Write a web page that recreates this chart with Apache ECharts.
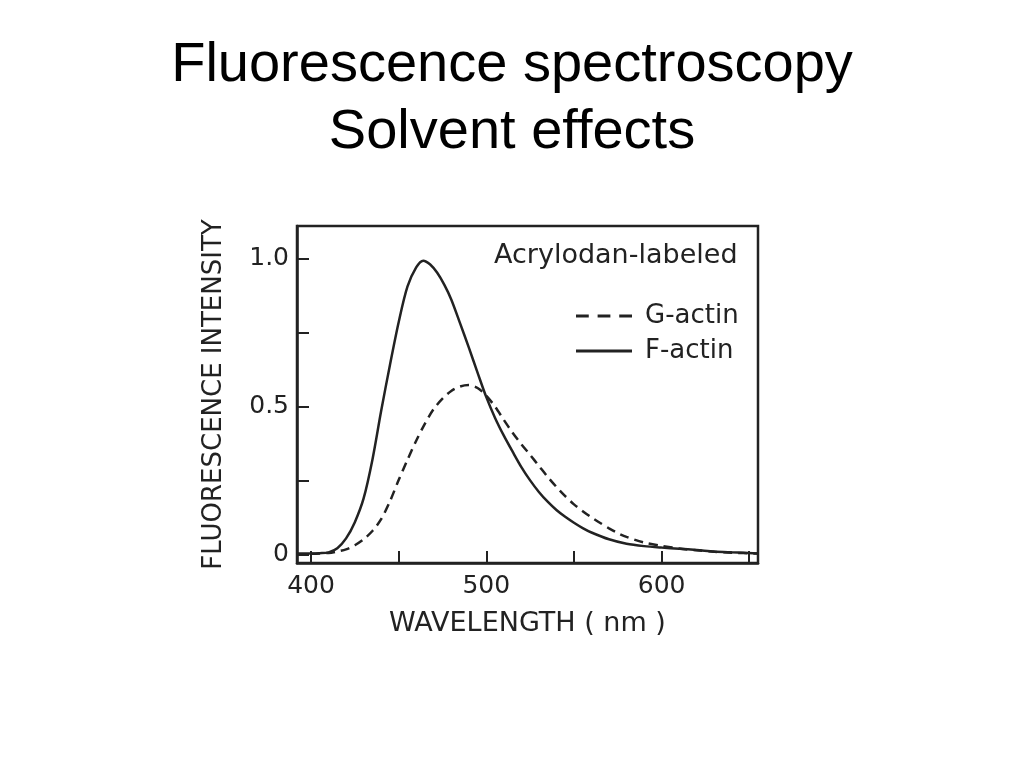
<!DOCTYPE html>
<html>
<head>
<meta charset="utf-8">
<style>
  html, body { margin: 0; padding: 0; background: #ffffff; }
  #chart { width: 1024px; height: 768px; }
</style>
<script src="https://cdn.jsdelivr.net/npm/echarts@6/dist/echarts.min.js"></script>
</head>
<body>
<div id="chart"></div>
<script>
// ---- data (wavelength in nm, normalized intensity) ----
const fWavelengths = [392, 400, 405, 410, 415, 420, 425, 430, 435, 440, 445, 450, 455, 460, 464, 468, 472, 476, 480, 485, 490, 495, 500, 505, 510, 515, 520, 525, 530, 535, 540, 545, 550, 555, 560, 570, 580, 590, 600, 610, 620, 630, 640, 655];
const fActin      = [0.004, 0.004, 0.005, 0.008, 0.022, 0.055, 0.11, 0.19, 0.32, 0.485, 0.64, 0.785, 0.905, 0.97, 0.993, 0.98, 0.952, 0.912, 0.862, 0.782, 0.70, 0.615, 0.532, 0.462, 0.402, 0.348, 0.296, 0.251, 0.212, 0.179, 0.151, 0.128, 0.108, 0.09, 0.075, 0.052, 0.037, 0.029, 0.024, 0.02, 0.016, 0.011, 0.008, 0.004];

const gWavelengths = [400, 410, 415, 420, 425, 430, 435, 440, 445, 450, 455, 460, 465, 470, 475, 480, 485, 490, 495, 500, 505, 510, 515, 520, 525, 530, 535, 540, 545, 550, 555, 560, 565, 570, 575, 580, 590, 600, 610, 620, 630, 640, 655];
const gActin      = [0.003, 0.006, 0.011, 0.018, 0.032, 0.052, 0.08, 0.12, 0.18, 0.252, 0.32, 0.385, 0.443, 0.492, 0.527, 0.553, 0.568, 0.573, 0.563, 0.537, 0.5, 0.455, 0.412, 0.373, 0.337, 0.3, 0.263, 0.229, 0.198, 0.17, 0.147, 0.126, 0.107, 0.089, 0.073, 0.06, 0.041, 0.03, 0.021, 0.015, 0.01, 0.007, 0.004];

const xTickValues  = [400, 450, 500, 550, 600, 650];
const xLabelValues = [400, 500, 600];
const yTickValues  = [0, 0.25, 0.5, 0.75, 1.0];
const yLabelValues = [0, 0.5, 1.0];

const seriesNames = ['G-actin', 'F-actin'];

const ink = '#222222';
const figFont = '"DejaVu Sans", sans-serif';

const dashedIcon = 'path://M0,0H13V3H0Z M22,0H35V3H22Z M44,0H57V3H44Z';
const solidIcon  = 'path://M0,0H57V3H0Z';

const chart = echarts.init(document.getElementById('chart'));

chart.setOption({
  backgroundColor: '#ffffff',
  animation: false,
  title: [
    {
      text: 'Fluorescence spectroscopy\nSolvent effects',
      left: 'center',
      top: 27,
      textStyle: {
        fontFamily: '"Liberation Sans", Arial, sans-serif',
        fontWeight: 'normal',
        fontSize: 56,
        lineHeight: 67,
        color: '#000000'
      }
    },
    {
      text: 'Acrylodan-labeled',
      left: 489,
      top: 237,
      textStyle: {
        fontFamily: figFont,
        fontWeight: 'normal',
        fontSize: 27,
        color: ink
      }
    }
  ],
  legend: {
    data: [
      { name: seriesNames[0], icon: dashedIcon },
      { name: seriesNames[1], icon: solidIcon }
    ],
    orient: 'vertical',
    left: 571,
    top: 298,
    itemWidth: 56,
    itemHeight: 3,
    itemGap: 9,
    textStyle: {
      fontFamily: figFont,
      fontSize: 26,
      color: ink,
      padding: [0, 0, 0, 8]
    }
  },
  grid: {
    left: 297,
    right: 266,
    top: 226,
    bottom: 205,
    show: true,
    borderColor: ink,
    borderWidth: 2.5,
    backgroundColor: 'transparent'
  },
  xAxis: {
    type: 'value',
    min: 392,
    max: 655,
    name: 'WAVELENGTH ( nm )',
    nameLocation: 'middle',
    nameGap: 47,
    nameTextStyle: { fontFamily: figFont, fontSize: 27, color: ink },
    axisLine: { show: true, onZero: false, lineStyle: { color: ink, width: 2.5 } },
    axisTick: {
      show: true, inside: true, length: 12,
      customValues: xTickValues,
      lineStyle: { color: ink, width: 2 }
    },
    axisLabel: {
      customValues: xLabelValues,
      margin: 11,
      fontFamily: figFont,
      fontSize: 25,
      color: ink
    },
    splitLine: { show: false }
  },
  yAxis: {
    type: 'value',
    min: -0.028,
    max: 1.11,
    name: 'FLUORESCENCE INTENSITY',
    nameLocation: 'middle',
    nameRotate: 90,
    nameGap: 70,
    nameTextStyle: { fontFamily: figFont, fontSize: 26, color: ink },
    axisLine: { show: true, onZero: false, lineStyle: { color: ink, width: 2.5 } },
    axisTick: {
      show: true, inside: true, length: 12,
      customValues: yTickValues,
      lineStyle: { color: ink, width: 2 }
    },
    axisLabel: {
      customValues: yLabelValues,
      margin: 8,
      fontFamily: figFont,
      fontSize: 25,
      color: ink,
      formatter: function (v) { return v === 0 ? '0' : v.toFixed(1); }
    },
    splitLine: { show: false }
  },
  series: [
    {
      name: seriesNames[0],
      type: 'line',
      symbol: 'none',
      smooth: 0.3,
      data: gWavelengths.map((w, i) => [w, gActin[i]]),
      lineStyle: { color: ink, width: 2.5, type: [9, 6] },
      itemStyle: { color: ink },
      z: 3
    },
    {
      name: seriesNames[1],
      type: 'line',
      symbol: 'none',
      smooth: 0.3,
      data: fWavelengths.map((w, i) => [w, fActin[i]]),
      lineStyle: { color: ink, width: 2.5, type: 'solid' },
      itemStyle: { color: ink },
      z: 4
    }
  ]
});
</script>
</body>
</html>
